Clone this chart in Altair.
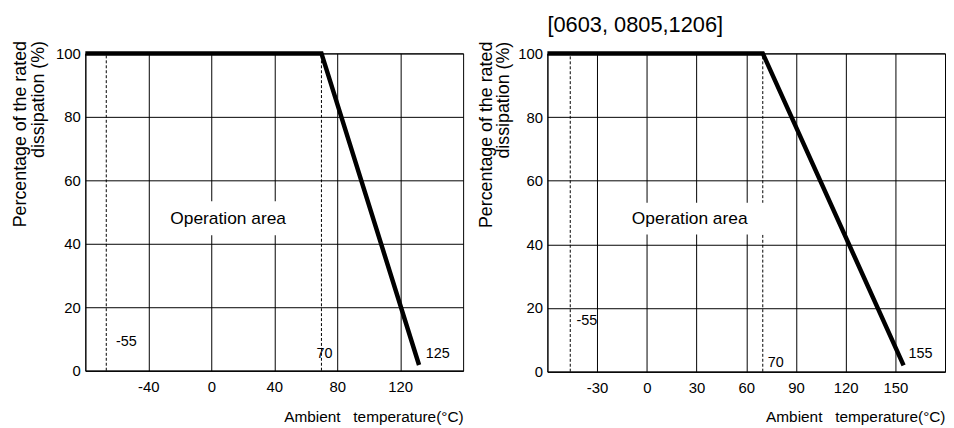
import altair as alt
import pandas as pd

FONT = "Liberation Sans"

# ---------------- left panel data ----------------
L_temp = [-80, 70, 132]
L_pct = [100, 100, 1.8]
L_dash = [-66.7, 70]
L_ticks = [-40, 0, 40, 80, 120]
L_domain = [-80, 160]
L_notes = ["-55", "70", "125"]
L_note_x = [-60.6, 66.8, 136.2]
L_note_y = [8.9, 5.2, 5.4]
L_box = [-32.2, 52.9, 42.7, 53.4]
L_op = [10.7, 47.7]

# ---------------- right panel data ----------------
R_temp = [-60, 70, 155]
R_pct = [100, 100, 2.0]
R_dash = [-46.2, 70]
R_ticks = [-30, 0, 30, 60, 90, 120, 150]
R_domain = [-60, 180]
R_notes = ["-55", "70", "155"]
R_note_x = [-42.5, 73, 158]
R_note_y = [15.8, 2.6, 5.7]
R_box = [-15.5, 77.2, 43.1, 53.1]
R_op = [25.9, 48.0]

Y_ticks = [0, 20, 40, 60, 80, 100]
Y_TITLE = ["Percentage of the rated", "dissipation (%)"]
X_TITLE = "Ambient\u00a0\u00a0 temperature(°C)"
OP_TEXT = "Operation area"
R_TITLE = "[0603, 0805,1206]"


def panel(temp, pct, dash, ticks, domain, notes, nx, ny, box, op,
          width, height, ytx, yty, xty, title=None):
    xaxis = alt.Axis(
        values=ticks, grid=True, gridColor="black", gridWidth=1, gridOpacity=1,
        ticks=False, domainColor="black", domainWidth=1,
        labelFont=FONT, labelFontSize=15, labelColor="black", labelPadding=9,
        labelFlush=False, labelOverlap=False,
        labelExpr="datum.value < 0 ? '-' + abs(datum.value) : '' + datum.value",
        title=X_TITLE, titleFont=FONT, titleFontSize=15.5, titleFontWeight="normal",
        titleColor="black", titleAnchor="end", titleAlign="right",
        titleX=width, titleY=xty, titleBaseline="middle",
    )
    yaxis = alt.Axis(
        values=Y_ticks, grid=True, gridColor="black", gridWidth=1, gridOpacity=1,
        ticks=False, domainColor="black", domainWidth=1,
        labelFont=FONT, labelFontSize=15, labelColor="black", labelPadding=5,
        labelFlush=False, labelOverlap=False,
        title=Y_TITLE, titleFont=FONT, titleFontSize=18, titleFontWeight="normal",
        titleColor="black", titleAngle=270, titleAlign="right",
        titleBaseline="alphabetic", titleX=ytx, titleY=yty, titleLineHeight=17.4,
    )
    xs = alt.Scale(domain=domain, nice=False, zero=False)
    ys = alt.Scale(domain=[0, 100], nice=False, zero=False)

    line_df = pd.DataFrame({"t": temp, "p": pct})
    dash_df = pd.DataFrame({"t": dash, "p": [0] * len(dash), "p2": [100] * len(dash)})
    note_df = pd.DataFrame({"t": nx, "p": ny, "txt": notes})
    box_df = pd.DataFrame({"t": [box[0]], "t2": [box[1]], "p": [box[2]], "p2": [box[3]]})
    op_df = pd.DataFrame({"t": [op[0]], "p": [op[1]], "txt": [OP_TEXT]})

    X = alt.X("t:Q", scale=xs, axis=xaxis)
    Y = alt.Y("p:Q", scale=ys, axis=yaxis)

    rules = alt.Chart(dash_df).mark_rule(color="black", strokeWidth=1, strokeDash=[3, 2]).encode(
        x=X, y=Y, y2="p2:Q")
    rect = alt.Chart(box_df).mark_rect(color="white").encode(x=X, x2="t2:Q", y=Y, y2="p2:Q")
    notes_l = alt.Chart(note_df).mark_text(
        align="left", baseline="middle", font=FONT, fontSize=14.5, color="black"
    ).encode(x=X, y=Y, text="txt:N")
    op_l = alt.Chart(op_df).mark_text(
        align="center", baseline="middle", font=FONT, fontSize=17.5, color="black"
    ).encode(x=X, y=Y, text="txt:N")
    line = alt.Chart(line_df).mark_line(color="black", strokeWidth=4.5).encode(x=X, y=Y)

    props = dict(width=width, height=height)
    if title is not None:
        props["title"] = alt.TitleParams(
            text=title, anchor="start", frame="group", fontSize=22, font=FONT,
            fontWeight="normal", color="black", offset=4)
    return alt.layer(rules, rect, notes_l, op_l, line).properties(**props)


left = panel(L_temp, L_pct, L_dash, L_ticks, L_domain, L_notes, L_note_x, L_note_y,
             L_box, L_op, 381, 320, -60, -13, 46)
right = panel(R_temp, R_pct, R_dash, R_ticks, R_domain, R_notes, R_note_x, R_note_y,
              R_box, R_op, 401, 321, -56.4, -12.3, 45, title=R_TITLE)

chart = alt.hconcat(left, right, spacing=85, bounds="flush").properties(
    padding={"left": 3, "top": 4, "right": 0, "bottom": 0}
).configure_view(stroke="black", strokeWidth=1)

chart.save("out.html", embed_options={"renderer": "svg", "actions": False})
